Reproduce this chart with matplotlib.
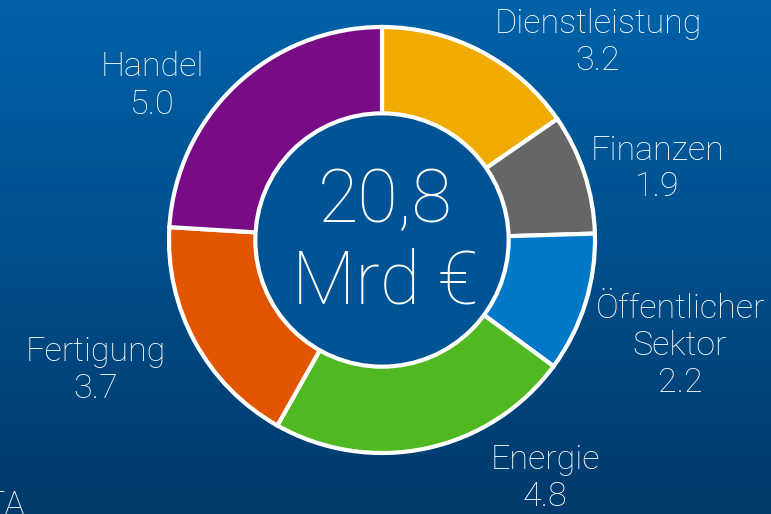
import numpy as np
import matplotlib
matplotlib.use("Agg")
import matplotlib.pyplot as plt
from matplotlib.patches import Circle
from matplotlib.colors import LinearSegmentedColormap

categories = ["Dienstleistung", "Finanzen", "Öffentlicher\nSektor", "Energie", "Fertigung", "Handel"]
values = [3.2, 1.9, 2.2, 4.8, 3.7, 5.0]
colors = ["#F0AA00", "#666666", "#0078C8", "#50B820", "#E25500", "#780C84"]
value_labels = ["3.2", "1.9", "2.2", "4.8", "3.7", "5.0"]
total_label = "20,8\nMrd €"

W, H = 771, 514
fig = plt.figure(figsize=(W / 100, H / 100), dpi=100)
ax = fig.add_axes([0, 0, 1, 1])
ax.set_xlim(0, W)
ax.set_ylim(0, H)
ax.axis("off")

# background gradient
cmap = LinearSegmentedColormap.from_list("bg", ["#003A6C", "#0062A9"])
grad = np.linspace(0, 1, 256).reshape(-1, 1)
ax.imshow(grad, extent=[0, W, 0, H], origin="lower", cmap=cmap, aspect="auto", zorder=0)

cx, cy = 382, H - 240
R = 213
ax.pie(values, colors=colors, startangle=90, counterclock=False,
       center=(cx, cy), radius=R, frame=True,
       wedgeprops=dict(width=R * 0.41, edgecolor="white", linewidth=3))
ax.set_xlim(0, W)
ax.set_ylim(0, H)
ax.set_aspect("auto")
ax.axis("off")

ax.add_patch(Circle((cx, cy), R * 0.59 + 1, facecolor="#005496", edgecolor="white", linewidth=3, zorder=5))

font = dict(family=["Roboto", "DejaVu Sans"], fontweight="light", color="white")
ax.text(cx + 3, cy - 2, total_label, ha="center", va="center", fontsize=53,
        linespacing=1.18, zorder=6, **font)

label_pos = [(598, 42), (657, 169), (680, 346), (545, 478), (96, 371), (152, 86)]
for cat, val, (x, y) in zip(categories, value_labels, label_pos):
    ax.text(x, H - y, f"{cat}\n{val}", ha="center", va="center", fontsize=24.5,
            linespacing=1.2, **font)

ax.text(25, H - 506, "TA", ha="right", va="center", fontsize=24.5, **font)

fig.savefig("out.png", dpi=100)
